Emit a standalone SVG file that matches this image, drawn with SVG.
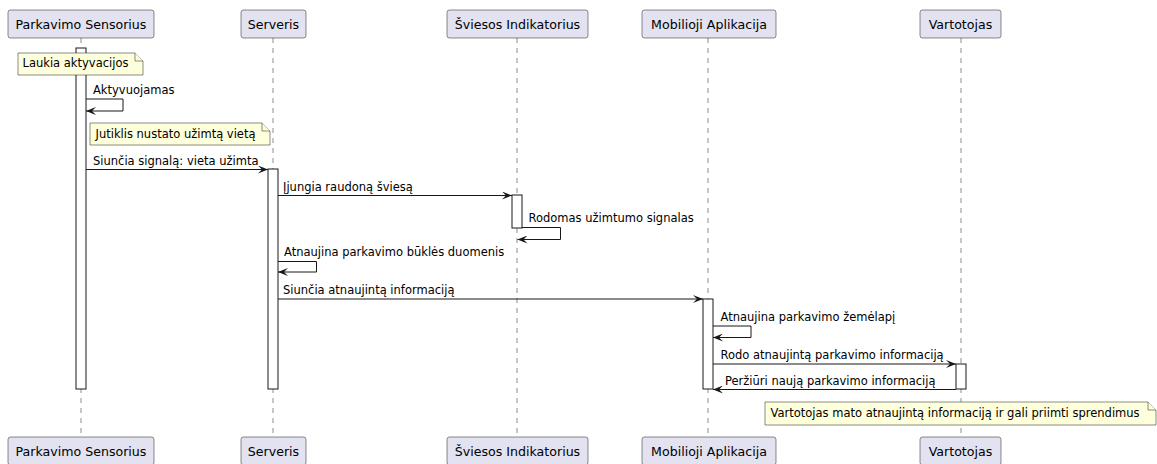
<svg xmlns="http://www.w3.org/2000/svg" width="1157" height="464" viewBox="0 0 1157 464">
  <style>
    .box { fill: #E2E2F0; stroke: #181818; stroke-width: 0.5; }
    .ptxt { font-family: "DejaVu Sans", sans-serif; font-size: 12.6px; fill: #000; text-anchor: middle; }
    .life { stroke: #181818; stroke-width: 0.5; stroke-dasharray: 5 5; fill: none; }
    .act { fill: #FFFFFF; stroke: #181818; stroke-width: 1; }
    .msg { stroke: #181818; stroke-width: 1; fill: none; }
    .mtxt { font-family: "DejaVu Sans", sans-serif; font-size: 11.5px; fill: #000; }
    .note { fill: #FEFFDD; stroke: #181818; stroke-width: 0.5; }
  </style>
  <defs>
    <marker id="ah" viewBox="0 0 10 8" refX="10" refY="4" markerWidth="10" markerHeight="8" markerUnits="userSpaceOnUse" orient="auto">
      <polygon points="0,0 10,4 0,8 4,4" fill="#181818"/>
    </marker>
  </defs>

  <rect width="1157" height="464" fill="#FFFFFF"/>

  <!-- lifelines -->
  <g id="lifelines">
    <line class="life" x1="81" y1="38" x2="81" y2="437"/>
    <line class="life" x1="273" y1="38" x2="273" y2="437"/>
    <line class="life" x1="517" y1="38" x2="517" y2="437"/>
    <line class="life" x1="708" y1="38" x2="708" y2="437"/>
    <line class="life" x1="961" y1="38" x2="961" y2="437"/>
  </g>

  <!-- participants -->
  <g id="sensorius">
    <rect class="box" x="8" y="10" width="146" height="28" rx="2.5"/>
    <text class="ptxt" x="81" y="28.5">Parkavimo Sensorius</text>
    <rect class="box" x="8" y="437" width="146" height="28" rx="2.5"/>
    <text class="ptxt" x="81" y="455.5">Parkavimo Sensorius</text>
  </g>
  <g id="serveris">
    <rect class="box" x="241" y="10" width="65" height="28" rx="2.5"/>
    <text class="ptxt" x="273.5" y="28.5">Serveris</text>
    <rect class="box" x="241" y="437" width="65" height="28" rx="2.5"/>
    <text class="ptxt" x="273.5" y="455.5">Serveris</text>
  </g>
  <g id="indikatorius">
    <rect class="box" x="447" y="10" width="141" height="28" rx="2.5"/>
    <text class="ptxt" x="517.5" y="28.5">Šviesos Indikatorius</text>
    <rect class="box" x="447" y="437" width="141" height="28" rx="2.5"/>
    <text class="ptxt" x="517.5" y="455.5">Šviesos Indikatorius</text>
  </g>
  <g id="aplikacija">
    <rect class="box" x="642" y="10" width="134" height="28" rx="2.5"/>
    <text class="ptxt" x="709" y="28.5">Mobilioji Aplikacija</text>
    <rect class="box" x="642" y="437" width="134" height="28" rx="2.5"/>
    <text class="ptxt" x="709" y="455.5">Mobilioji Aplikacija</text>
  </g>
  <g id="vartotojas">
    <rect class="box" x="920" y="10" width="81" height="28" rx="2.5"/>
    <text class="ptxt" x="960.5" y="28.5">Vartotojas</text>
    <rect class="box" x="920" y="437" width="81" height="28" rx="2.5"/>
    <text class="ptxt" x="960.5" y="455.5">Vartotojas</text>
  </g>

  <!-- activation bars -->
  <g id="activations">
    <rect class="act" x="76" y="48" width="10" height="341"/>
    <rect class="act" x="268" y="169" width="10" height="220"/>
    <rect class="act" x="512" y="195" width="10" height="33"/>
    <rect class="act" x="703" y="299" width="10" height="90"/>
    <rect class="act" x="956" y="364" width="10" height="25"/>
  </g>

  <!-- notes -->
  <g id="note-laukia">
    <path class="note" d="M18,53 L18,75 L143,75 L143,61 L135,53 Z"/>
    <path class="note" d="M135,53 L135,61 L143,61"/>
    <text class="mtxt" x="22.5" y="67">Laukia aktyvacijos</text>
  </g>
  <g id="note-jutiklis">
    <path class="note" d="M90,123 L90,145 L270,145 L270,131 L262,123 Z"/>
    <path class="note" d="M262,123 L262,131 L270,131"/>
    <text class="mtxt" x="95.5" y="138">Jutiklis nustato užimtą vietą</text>
  </g>
  <g id="note-vartotojas">
    <path class="note" d="M765,402 L765,425 L1156,425 L1156,410 L1148,402 Z"/>
    <path class="note" d="M1148,402 L1148,410 L1156,410"/>
    <text class="mtxt" x="770.5" y="417">Vartotojas mato atnaujintą informaciją ir gali priimti sprendimus</text>
  </g>

  <!-- messages -->
  <g id="connectors">
    <polyline class="msg" points="86,99 123,99 123,111 86,111" marker-end="url(#ah)"/>
    <line class="msg" x1="86" y1="169.5" x2="268" y2="169.5" marker-end="url(#ah)"/>
    <line class="msg" x1="278" y1="195.5" x2="512" y2="195.5" marker-end="url(#ah)"/>
    <polyline class="msg" points="522,227.5 560.5,227.5 560.5,239.5 517.5,239.5" marker-end="url(#ah)"/>
    <polyline class="msg" points="278,261.5 316.5,261.5 316.5,272 278,272" marker-end="url(#ah)"/>
    <line class="msg" x1="278" y1="299" x2="703" y2="299" marker-end="url(#ah)"/>
    <polyline class="msg" points="713,326 751,326 751,337.5 713,337.5" marker-end="url(#ah)"/>
    <line class="msg" x1="713" y1="364" x2="956" y2="364" marker-end="url(#ah)"/>
    <line class="msg" x1="956" y1="389.5" x2="713" y2="389.5" marker-end="url(#ah)"/>
  </g>

  <!-- message labels -->
  <g id="labels">
    <text class="mtxt" x="93" y="94">Aktyvuojamas</text>
    <text class="mtxt" x="93" y="165">Siunčia signalą: vieta užimta</text>
    <text class="mtxt" x="283" y="191">Įjungia raudoną šviesą</text>
    <text class="mtxt" x="528.5" y="222">Rodomas užimtumo signalas</text>
    <text class="mtxt" x="284" y="256">Atnaujina parkavimo būklės duomenis</text>
    <text class="mtxt" x="283" y="294">Siunčia atnaujintą informaciją</text>
    <text class="mtxt" x="720.5" y="321">Atnaujina parkavimo žemėlapį</text>
    <text class="mtxt" x="720.5" y="359">Rodo atnaujintą parkavimo informaciją</text>
    <text class="mtxt" x="725" y="384.5">Peržiūri naują parkavimo informaciją</text>
  </g>
</svg>
